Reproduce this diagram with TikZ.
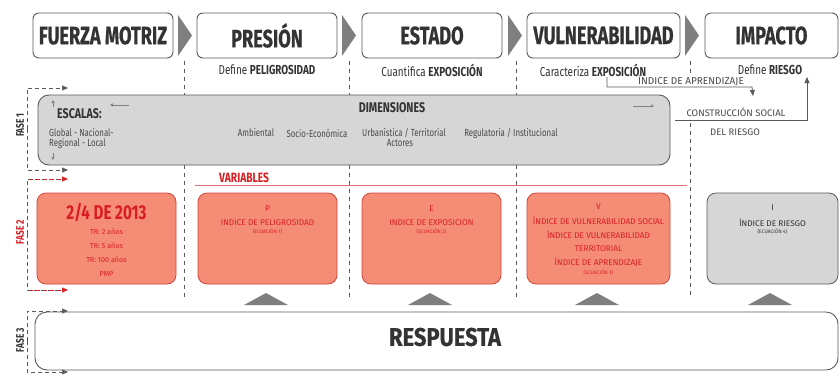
\documentclass[tikz,border=0pt]{standalone}
\usepackage{fontspec}
\setmainfont{Fira Sans}
\newfontfamily\cond{Fira Sans}[FakeStretch=0.76]
\newfontfamily\headf{Fira Sans}[FakeStretch=0.72, BoldFeatures={FakeBold=0.5}]
\newfontfamily\respf{Fira Sans}[FakeStretch=0.86, BoldFeatures={FakeBold=0.5}]
\usetikzlibrary{arrows.meta}
\definecolor{salmon}{HTML}{F58D76}
\definecolor{redline}{HTML}{D2453A}
\definecolor{redtxt}{HTML}{D81E22}
\definecolor{pinkline}{HTML}{DD6B78}
\definecolor{boxgray}{HTML}{D6D6D6}
\definecolor{edgegray}{HTML}{5A5A5A}
\definecolor{txtgray}{HTML}{333333}
\definecolor{smallgray}{HTML}{4A4A4A}
\definecolor{trigray}{HTML}{7F7F7F}
\newcommand{\fsz}[1]{\fontsize{#1}{#1}\selectfont}
\tikzset{
  head/.style={draw=edgegray, line width=0.9pt, rounded corners=6pt, fill=white,
    minimum height=45pt, inner sep=0pt, text=txtgray, font=\headf\fsz{25.2}\bfseries},
  sub/.style={inner sep=0pt, text=txtgray, font=\cond\fsz{13}},
  divider/.style={edgegray, line width=0.6pt, dash pattern=on 4pt off 4pt},
  redbox/.style={draw=redline, line width=0.8pt, fill=salmon, rounded corners=9pt,
    minimum height=91pt, inner sep=0pt},
  graybox/.style={draw=edgegray, line width=0.8pt, fill=boxgray, rounded corners=9pt,
    minimum height=91pt, inner sep=0pt},
  rtxt/.style={inner sep=0pt, text=redtxt, font=\fsz{8.3}},
  trtxt/.style={inner sep=0pt, text=redtxt, font=\fsz{7.2}},
  rtiny/.style={inner sep=0pt, text=redtxt, font=\fsz{5}},
  gtxt/.style={inner sep=0pt, text=smallgray, font=\cond\fsz{10.3}},
  btitle/.style={inner sep=0pt, text=txtgray, font=\cond\fsz{14}\bfseries},
  fdash/.style={line width=0.7pt, dash pattern=on 4pt off 3pt, -{Triangle[length=6pt,width=5pt]}},
  fdashred/.style={line width=0.7pt, dash pattern=on 4pt off 3pt, -{Triangle[length=6pt,width=5pt,color=redtxt]}},
  fase/.style={inner sep=1.5pt, fill=white, rotate=90, font=\cond\fsz{11}\bfseries},
  tri/.style={fill=trigray},
  conn/.style={edgegray, line width=0.8pt},
  smallarrow/.style={gray, line width=0.5pt, -{Triangle[length=3pt,width=3pt]}},
}
\begin{document}
\begin{tikzpicture}[x=1pt,y=-1pt]
\useasboundingbox (0,0) rectangle (840,376);
\fill[white] (0,0) rectangle (840,376);

% dividers
\draw[divider] (184,61) -- (184,297);
\draw[divider] (349,61) -- (349,297);
\draw[divider] (516,61) -- (516,297);
\draw[divider] (690,61) -- (690,76);
\draw[divider] (690,123) -- (690,297);

% header boxes
\node[head, minimum width=140pt] (fm) at (103,35.5) {FUERZA MOTRIZ};
\node[head, minimum width=140pt] (pr) at (267,35.5) {PRESIÓN};
\node[head, minimum width=140pt] (es) at (432,35.5) {ESTADO};
\node[head, minimum width=153pt] (vu) at (603.5,35.5) {VULNERABILIDAD};
\node[head, minimum width=133pt] (im) at (771.5,35.5) {IMPACTO};

% chevrons
\fill[trigray] (178,15) -- (192,35.5) -- (178,56) -- cycle;
\fill[trigray] (342,15) -- (356,35.5) -- (342,56) -- cycle;
\fill[trigray] (508,15) -- (522,35.5) -- (508,56) -- cycle;
\fill[trigray] (685,15) -- (699,35.5) -- (685,56) -- cycle;

% subtitles
\node[sub] (s1) at (267,70) {Define \textbf{PELIGROSIDAD}};
\node[sub] (s2) at (432,70) {Cuantifica \textbf{EXPOSICIÓN}};
\node[sub] (s3) at (593,70) {Caracteriza \textbf{EXPOSICIÓN}};
\node[sub] (s4) at (770,70) {Define \textbf{RIESGO}};

% indice de aprendizaje connector
\coordinate (ia0) at (607,77);
\coordinate (ia1) at (752,87);
\coordinate (ia2) at (753,96);
\draw[conn, -{Triangle[length=6pt,width=5pt]}] (ia0) |- (ia1) -- (ia2);
\node[inner sep=0pt, text=smallgray, font=\fsz{10}, anchor=south] (iat) at (691,86) {ÍNDICE DE APRENDIZAJE};

% construccion social
\coordinate (cs0) at (675,120);
\coordinate (cs1) at (807,77);
\draw[conn, -{Triangle[length=6pt,width=5pt]}] (cs0) -| (cs1);
\node[inner sep=0pt, text=smallgray, font=\fsz{9.5}] (cst) at (736,112.5) {CONSTRUCCIÓN SOCIAL};
\node[inner sep=0pt, text=smallgray, font=\fsz{9.5}] (csr) at (735,132) {DEL RIESGO};

% FASE 1 box
\node[draw=edgegray, line width=0.9pt, fill=boxgray, rounded corners=11pt,
  minimum width=632pt, minimum height=70pt, inner sep=0pt] (f1) at (354,130) {};
\node[btitle, anchor=west] (esc) at (57,113.5) {ESCALAS:};
\node[gtxt, anchor=west] (gl) at (49,133) {Global - Nacional-};
\node[gtxt, anchor=west] (rg) at (49,143.5) {Regional - Local};
\coordinate (au0) at (53,107);
\coordinate (au1) at (53,100);
\draw[smallarrow] (au0) -- (au1);
\coordinate (ad0) at (53,153);
\coordinate (ad1) at (53,160);
\draw[smallarrow] (ad0) -- (ad1);
\coordinate (al0) at (129,105);
\coordinate (al1) at (110,105);
\draw[smallarrow] (al0) -- (al1);
\coordinate (ar0) at (633,106);
\coordinate (ar1) at (654,106);
\draw[smallarrow] (ar0) -- (ar1);
\node[btitle] (dim) at (392,108) {DIMENSIONES};
\node[gtxt] (amb) at (256,133) {Ambiental};
\node[gtxt] (soc) at (317,133) {Socio-Económica};
\node[gtxt] (urb) at (404,133) {Urbanística / Territorial};
\node[gtxt] (reg) at (511,133) {Regulatoria / Institucional};
\node[gtxt] (act) at (400,143.5) {Actores};

% VARIABLES
\node[btitle, anchor=west, text=redtxt, font=\cond\fsz{13.5}\bfseries] (var) at (219,178) {VARIABLES};
\coordinate (vl0) at (195,185);
\coordinate (vl1) at (687,185);
\draw[pinkline, line width=1pt] (vl0) -- (vl1);

% FASE 2 boxes
\node[redbox, minimum width=139pt] (b1) at (106.5,238.5) {};
\node[inner sep=0pt, text=redtxt, font=\cond\fsz{20}\bfseries] (b1t) at (106.5,212) {2/4 DE 2013};
\node[trtxt] (b1a) at (106.5,232) {TR: 2 años};
\node[trtxt] (b1b) at (106.5,246) {TR: 5 años};
\node[trtxt] (b1c) at (106.5,260) {TR: 100 años};
\node[trtxt] (b1d) at (106.5,274) {PMP};

\node[redbox, minimum width=139pt] (b2) at (267.5,238.5) {};
\node[rtxt] (b2a) at (267.5,209) {P};
\node[rtxt] (b2b) at (267.5,223) {INDICE DE PELIGROSIDAD};
\node[rtiny] (b2c) at (267.5,232) {(ECUACIÓN 1)};

\node[redbox, minimum width=139pt] (b3) at (431.5,238.5) {};
\node[rtxt] (b3a) at (431.5,209) {E};
\node[rtxt] (b3b) at (431.5,223) {INDICE DE EXPOSICION};
\node[rtiny] (b3c) at (431.5,232) {(ECUACIÓN 2)};

\node[redbox, minimum width=143pt] (b4) at (598.5,238.5) {};
\node[rtxt] (b4a) at (598.5,207) {V};
\node[rtxt] (b4b) at (598.5,221) {ÍNDICE DE VULNERABILIDAD SOCIAL};
\node[rtxt] (b4c) at (598.5,235) {ÍNDICE DE VULNERABILIDAD};
\node[rtxt] (b4d) at (598.5,249) {TERRITORIAL};
\node[rtxt] (b4e) at (598.5,262) {ÍNDICE DE APRENDIZAJE};
\node[rtiny] (b4f) at (598.5,273) {(ECUACIÓN 3)};

\node[graybox, minimum width=131pt] (b5) at (772.5,238.5) {};
\node[rtxt, text=txtgray] (b5a) at (772.5,208) {I};
\node[rtxt, text=txtgray] (b5b) at (772.5,223) {ÍNDICE DE RIESGO};
\node[rtiny, text=txtgray] (b5c) at (772.5,232) {(ECUACIÓN 4)};

% triangles
\fill[tri] (244,305) -- (266,293) -- (288,305) -- cycle;
\fill[tri] (408,305) -- (430,293) -- (452,305) -- cycle;
\fill[tri] (575,305) -- (597,293) -- (619,305) -- cycle;
\fill[tri] (748,305) -- (770,293) -- (792,305) -- cycle;

% RESPUESTA
\node[draw=edgegray, line width=0.9pt, fill=white, rounded corners=12pt,
  minimum width=803pt, minimum height=58pt, inner sep=0pt] (resp) at (436.5,341) {};
\node[inner sep=0pt, text=txtgray, font=\respf\fsz{25.5}\bfseries] (respt) at (445,337) {RESPUESTA};

% left phase markers
\coordinate (p1m) at (27,129);
\coordinate (p1a) at (68,88);
\coordinate (p1b) at (68,170);
\draw[fdash, edgegray] (p1m) |- (p1a);
\draw[fdash, edgegray] (p1m) |- (p1b);
\coordinate (p2m) at (27,234);
\coordinate (p2a) at (68,179);
\coordinate (p2b) at (68,290);
\draw[fdashred, edgegray] (p2m) |- (p2a);
\draw[fdashred, edgegray] (p2m) |- (p2b);
\draw[redtxt, line width=0.7pt, dash pattern=on 4pt off 3pt] (29,179) -- (62,179);
\draw[redtxt, line width=0.7pt, dash pattern=on 4pt off 3pt] (29,290) -- (62,290);
\coordinate (p3m) at (27,341);
\coordinate (p3a) at (68,311);
\coordinate (p3b) at (68,372);
\draw[fdash, edgegray] (p3m) |- (p3a);
\draw[fdash, edgegray] (p3m) |- (p3b);

\node[fase, text=txtgray] (f1l) at (20,125) {FASE 1};
\node[fase, text=redtxt] (f2l) at (20,232) {FASE 2};
\node[fase, text=txtgray] (f3l) at (20,340) {FASE 3};
\end{tikzpicture}
\end{document}
